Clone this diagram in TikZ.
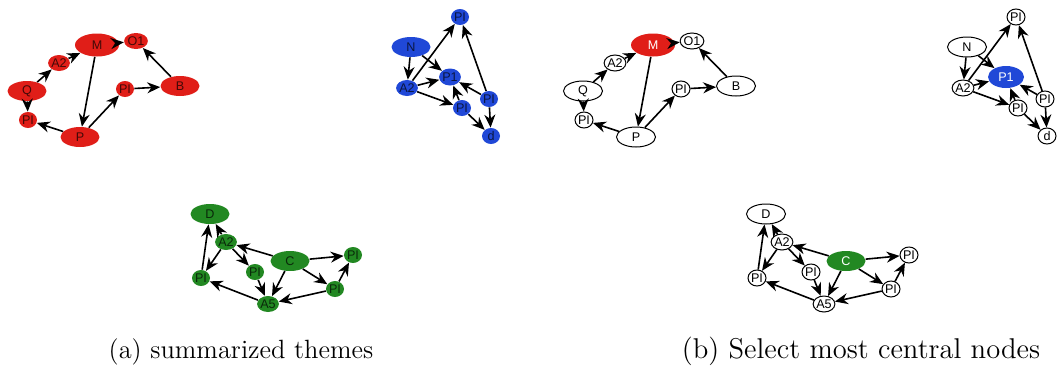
\documentclass[tikz,border=0pt]{standalone}
\usepackage{fontspec}
\newfontfamily\lblfont{Liberation Sans}
\usetikzlibrary{arrows.meta,shapes.geometric}
\definecolor{nodered}{RGB}{224,30,24}
\definecolor{nodeblue}{RGB}{32,72,215}
\definecolor{nodegreen}{RGB}{34,136,34}
\tikzset{
  base/.style={ellipse, inner sep=0pt, font=\lblfont\fontsize{6.3}{7}\selectfont},
  big/.style={base, minimum width=19.5pt, minimum height=10pt},
  small/.style={base, minimum width=9pt, minimum height=8pt},
  edge/.style={-{Stealth[length=6.5pt,width=5.5pt]}, line width=0.8pt, black},
  plain/.style={draw=black, fill=white, line width=0.5pt, text=black},
  caption/.style={anchor=base}
}
\newcommand\drawthemes{%
  % red theme
  \node[big,rhub,minimum width=22pt,minimum height=11.5pt] (M) at (97,45) {M};
  \node[small,rleaf] (O1) at (136,41) {O1};
  \node[small,rleaf] (A2r) at (59,63) {A2};
  \node[big,rleaf] (Q) at (27,91) {Q};
  \node[small,rleaf] (PIa) at (28,120) {PI};
  \node[big,rleaf] (P) at (80,137) {P};
  \node[small,rleaf] (PIb) at (125,89) {PI};
  \node[big,rleaf] (B) at (180,86) {B};
  \draw[edge] (A2r) -- (M);
  \draw[edge] (M) -- (O1);
  \draw[edge] (Q) -- (A2r);
  \draw[edge] (Q) -- (PIa);
  \draw[edge] (P) -- (PIa);
  \draw[edge] (M) -- (P);
  \draw[edge] (P) -- (PIb);
  \draw[edge] (PIb) -- (B);
  \draw[edge] (B) -- (O1);
  % blue theme
  \node[small,bleaf] (PIt) at (460,17) {PI};
  \node[big,bleaf] (N) at (411,47) {N};
  \node[small,bleaf] (A2b) at (407,88) {A2};
  \node[bhub] (P1) at (450,77) {P1};
  \node[small,bleaf] (PIl) at (462,108) {PI};
  \node[small,bleaf] (PIr) at (489,99) {PI};
  \node[small,bleaf] (d) at (491,136) {d};
  \draw[edge] (N) -- (A2b);
  \draw[edge] (A2b) -- (PIt);
  \draw[edge] (N) -- (P1);
  \draw[edge] (A2b) -- (P1);
  \draw[edge] (A2b) -- (PIl);
  \draw[edge] (PIl) -- (P1);
  \draw[edge] (PIr) -- (P1);
  \draw[edge] (PIr) -- (PIt);
  \draw[edge] (PIl) -- (d);
  \draw[edge] (PIr) -- (d);
  % green theme
  \node[big,gleaf] (D) at (210,214) {D};
  \node[small,gleaf] (A2g) at (226,242) {A2};
  \node[small,gleaf] (PIgl) at (201,278) {PI};
  \node[small,gleaf] (PIgm) at (255,272) {PI};
  \node[big,ghub] (C) at (290,261) {C};
  \node[small,gleaf] (PIgt) at (353,255) {PI};
  \node[small,gleaf] (PIgb) at (335,289) {PI};
  \node[small,gleaf] (A5) at (268,304) {A5};
  \draw[edge] (A2g) -- (D);
  \draw[edge] (PIgl) -- (D);
  \draw[edge] (A2g) -- (PIgl);
  \draw[edge] (C) -- (A2g);
  \draw[edge] (A2g) -- (PIgm);
  \draw[edge] (PIgm) -- (A5);
  \draw[edge] (C) -- (A5);
  \draw[edge] (A5) -- (PIgl);
  \draw[edge] (C) -- (PIgt);
  \draw[edge] (C) -- (PIgb);
  \draw[edge] (PIgb) -- (PIgt);
  \draw[edge] (PIgb) -- (A5);
}
\begin{document}
\begin{tikzpicture}[x=0.5pt,y=-0.5pt]
  \useasboundingbox (0,0) rectangle (1059,370);
  \begin{scope}[name prefix=a-,
      rleaf/.style={fill=nodered, text=black!70!nodered},
      rhub/.style={rleaf},
      bleaf/.style={fill=nodeblue, text=black!70!nodeblue},
      bhub/.style={small, bleaf, minimum width=9.5pt, minimum height=8.5pt},
      gleaf/.style={fill=nodegreen, text=black!70!nodegreen},
      ghub/.style={gleaf}]
    \drawthemes
  \end{scope}
  \begin{scope}[shift={(556,0)}, name prefix=b-,
      rleaf/.style={plain},
      rhub/.style={fill=nodered, text=white},
      bleaf/.style={plain},
      bhub/.style={big, fill=nodeblue, text=white, minimum width=18pt, minimum height=11pt},
      gleaf/.style={plain},
      ghub/.style={fill=nodegreen, text=white}]
    \drawthemes
  \end{scope}
  \node[caption, font=\fontsize{13.2}{15}\selectfont] (capa) at (241,358) {(a) summarized themes};
  \node[caption, font=\fontsize{14.3}{16}\selectfont] (capb) at (861,358) {(b) Select most central nodes};
\end{tikzpicture}
\end{document}
